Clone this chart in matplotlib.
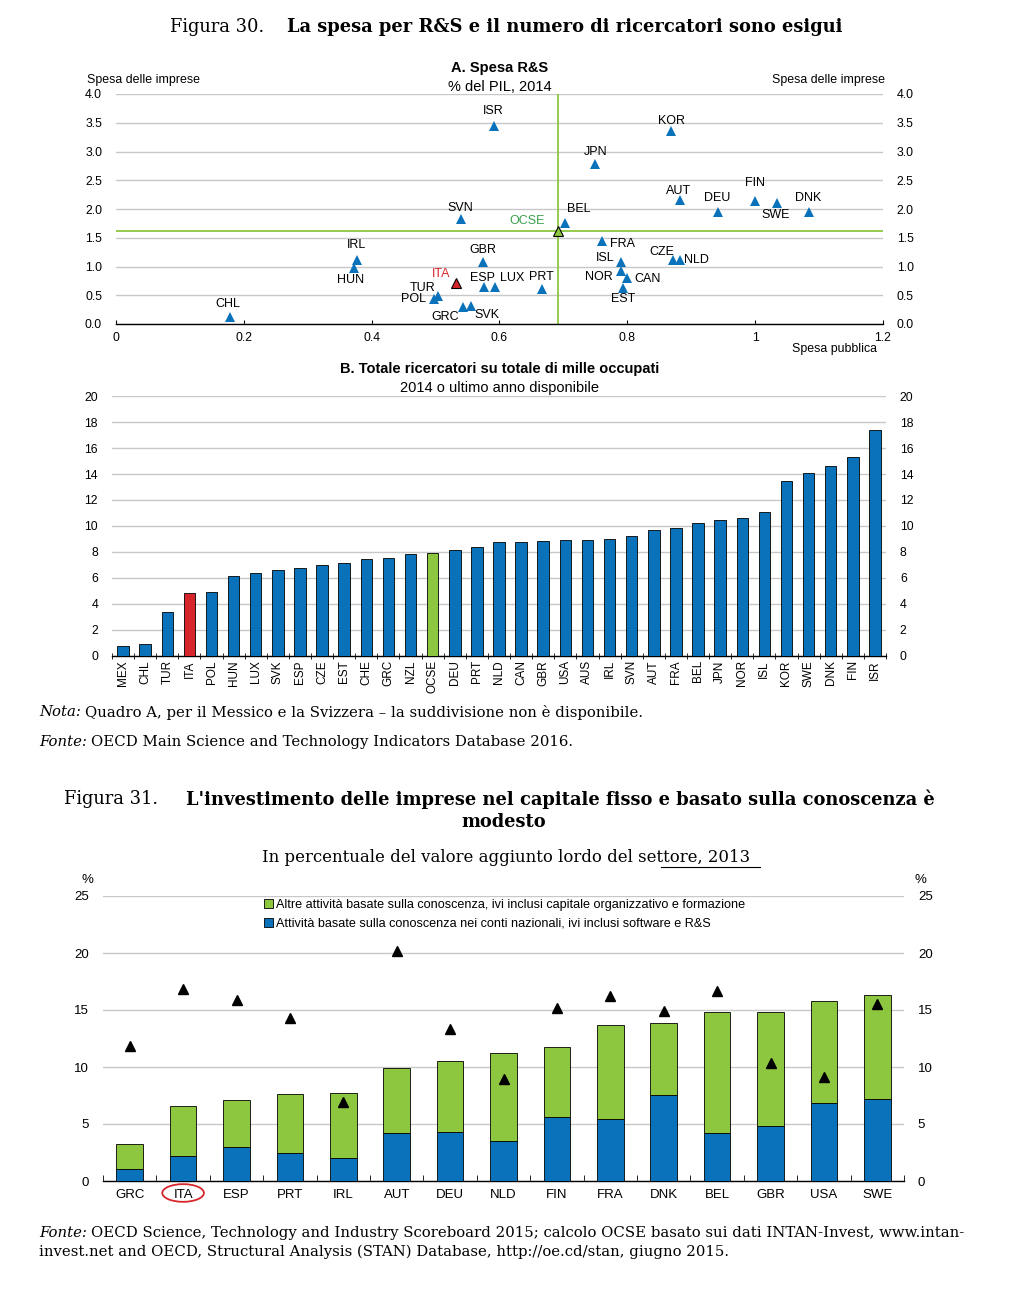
import matplotlib
matplotlib.use('Agg')
import matplotlib.pyplot as plt
import matplotlib.transforms as mtransforms
from matplotlib.patches import Ellipse, Patch
import numpy as np

plt.rcParams['font.family'] = ['Liberation Sans', 'DejaVu Sans']

# ---- Figura 30, quadro A: spesa R&S, % del PIL 2014
a_countries = ['CHL', 'IRL', 'HUN', 'TUR', 'POL', 'ITA', 'GRC', 'SVK', 'SVN', 'ISR',
               'GBR', 'ESP', 'LUX', 'PRT', 'BEL', 'JPN', 'FRA', 'ISL', 'NOR', 'CAN',
               'EST', 'CZE', 'NLD', 'KOR', 'AUT', 'DEU', 'FIN', 'SWE', 'DNK']
a_public = [0.178, 0.377, 0.372, 0.504, 0.498, 0.532, 0.543, 0.555, 0.539, 0.591,
            0.574, 0.576, 0.593, 0.667, 0.702, 0.750, 0.761, 0.790, 0.790, 0.800,
            0.794, 0.871, 0.882, 0.869, 0.882, 0.942, 1.000, 1.034, 1.085]
a_business = [0.12, 1.11, 0.97, 0.49, 0.43, 0.71, 0.29, 0.32, 1.83, 3.45,
              1.08, 0.65, 0.65, 0.61, 1.75, 2.78, 1.45, 1.07, 0.92, 0.80,
              0.62, 1.12, 1.12, 3.35, 2.16, 1.95, 2.14, 2.10, 1.95]
oecd_public = 0.692
oecd_business = 1.61

# ---- Figura 30, quadro B: ricercatori per mille occupati
b_countries = ['MEX', 'CHL', 'TUR', 'ITA', 'POL', 'HUN', 'LUX', 'SVK', 'ESP', 'CZE',
               'EST', 'CHE', 'GRC', 'NZL', 'OCSE', 'DEU', 'PRT', 'NLD', 'CAN', 'GBR',
               'USA', 'AUS', 'IRL', 'SVN', 'AUT', 'FRA', 'BEL', 'JPN', 'NOR', 'ISL',
               'KOR', 'SWE', 'DNK', 'FIN', 'ISR']
b_values = [0.80, 0.93, 3.39, 4.88, 4.94, 6.17, 6.40, 6.61, 6.79, 7.02,
            7.12, 7.48, 7.51, 7.87, 7.94, 8.17, 8.41, 8.74, 8.79, 8.87,
            8.95, 8.95, 8.97, 9.20, 9.72, 9.87, 10.26, 10.44, 10.62, 11.11,
            13.47, 14.06, 14.65, 15.30, 17.38]

# ---- Figura 31: investimento delle imprese, % del valore aggiunto 2013
c_countries = ['GRC', 'ITA', 'ESP', 'PRT', 'IRL', 'AUT', 'DEU', 'NLD', 'FIN', 'FRA',
               'DNK', 'BEL', 'GBR', 'USA', 'SWE']
c_national = [1.05, 2.16, 2.95, 2.49, 1.99, 4.21, 4.30, 3.51, 5.61, 5.41,
              7.51, 4.18, 4.80, 6.81, 7.19]
c_total = [3.25, 6.61, 7.13, 7.63, 7.69, 9.88, 10.50, 11.20, 11.73, 13.68,
           13.83, 14.80, 14.85, 15.76, 16.35]
c_fixed = [11.8, 16.8, 15.9, 14.3, 6.9, 20.15, 13.3, 8.95, 15.2, 16.2,
           14.9, 16.7, 10.35, 9.1, 15.5]
c_other = [t - n for t, n in zip(c_total, c_national)]

legend_labels = ['Altre attività basate sulla conoscenza, ivi inclusi capitale organizzativo e formazione',
                 'Attività basate sulla conoscenza nei conti nazionali, ivi inclusi software e R&S']

# label offsets (pixels) for quadro A
label_off = {'CHL': (-2, 13), 'IRL': (0, 15), 'HUN': (-3, -12), 'TUR': (-16, 8),
             'POL': (-21, 0), 'ITA': (-15, 9), 'GRC': (-18, -10), 'SVK': (16, -9),
             'SVN': (0, 11), 'ISR': (0, 15), 'GBR': (0, 12), 'ESP': (-2, 9),
             'LUX': (17, 9), 'PRT': (-1, 12), 'BEL': (14, 14), 'JPN': (0, 12),
             'FRA': (20, -3), 'ISL': (-16, 4), 'NOR': (-22, -6), 'CAN': (20, -1),
             'EST': (0, -11), 'CZE': (-11, 8), 'NLD': (17, 0), 'KOR': (0, 10),
             'AUT': (-1, 9), 'DEU': (-1, 14), 'FIN': (0, 18), 'SWE': (-1, -12),
             'DNK': (-1, 14)}

BLUE = '#0a72ba'
GREEN = '#8dc63f'
RED = '#d7262b'
GRID = '#c8c8c8'
SERIF = ['DejaVu Serif']

W, H = 1009, 1298
fig = plt.figure(figsize=(W / 100, H / 100), dpi=100)
renderer = fig.canvas.get_renderer()


def rect(l, r, t, b):
    return [l / W, 1 - b / H, (r - l) / W, (b - t) / H]


def px(x, y):
    return x / W, 1 - y / H


def style_axis(ax, pad):
    for s in ['left', 'right', 'top']:
        ax.spines[s].set_visible(False)
    ax.spines['bottom'].set_color('black')
    ax.spines['bottom'].set_linewidth(1.0)
    ax.yaxis.grid(True, color=GRID, lw=1.0)
    ax.set_axisbelow(True)
    ax.tick_params(axis='y', length=0, labelleft=True, labelright=True, pad=pad)


def note_line(x, y, head, rest, size):
    t = fig.text(*px(x, y), head, family=SERIF, fontsize=size, style='italic',
                 ha='left', va='center')
    x1 = t.get_window_extent(renderer).x1
    fig.text(*px(x1 + 4, y), rest, family=SERIF, fontsize=size, ha='left', va='center')


NOTE = 10.75
TITLE = 12.9

# ---------------- titles
fig.text(*px(170, 27), 'Figura 30.', family=SERIF, fontsize=TITLE, va='center', ha='left')
fig.text(*px(287, 27), 'La spesa per R&S e il numero di ricercatori sono esigui',
         family=SERIF, fontsize=TITLE, fontweight='bold', va='center', ha='left')

# ---------------- quadro A
axA = fig.add_axes(rect(116, 883, 94, 324))
style_axis(axA, 10)
axA.set_xlim(0, 1.2)
axA.set_ylim(0, 4)
axA.set_yticks(np.arange(0, 4.01, 0.5))
axA.set_yticklabels(['%.1f' % v for v in np.arange(0, 4.01, 0.5)], fontsize=8.8)
axA.set_xticks([0, 0.2, 0.4, 0.6, 0.8, 1.0, 1.2])
axA.set_xticklabels(['0', '0.2', '0.4', '0.6', '0.8', '1', '1.2'], fontsize=8.8)
axA.tick_params(axis='x', direction='in', length=3, pad=6)
axA.axhline(oecd_business, color=GREEN, lw=1.3, zorder=2)
axA.axvline(oecd_public, color=GREEN, lw=1.3, zorder=2)

for c, x, y in zip(a_countries, a_public, a_business):
    if c == 'ITA':
        axA.plot(x, y, '^', ms=7, mfc=RED, mec='black', mew=0.8, zorder=4)
        col = RED
    else:
        axA.plot(x, y, '^', ms=7, color=BLUE, mew=0, zorder=4)
        col = 'black'
    dx, dy = label_off[c]
    axA.annotate(c, (x, y), xytext=(dx, dy), textcoords='offset pixels',
                 ha='center', va='center', fontsize=9, color=col)
axA.plot(oecd_public, oecd_business, '^', ms=7, mfc=GREEN, mec='black', mew=0.8, zorder=5)
axA.annotate('OCSE', (oecd_public, oecd_business), xytext=(-31, 10),
             textcoords='offset pixels', ha='center', va='center', fontsize=9, color='#3aa04a')

fig.text(*px(500, 68), 'A. Spesa R&S', fontsize=10.5, fontweight='bold', ha='center', va='center')
fig.text(*px(500, 87), '% del PIL, 2014', fontsize=10.5, ha='center', va='center')
fig.text(*px(87, 80), 'Spesa delle imprese', fontsize=8.9, ha='left', va='center')
fig.text(*px(885, 80), 'Spesa delle imprese', fontsize=8.9, ha='right', va='center')
fig.text(*px(877, 349), 'Spesa pubblica', fontsize=8.9, ha='right', va='center')

# ---------------- quadro B
axB = fig.add_axes(rect(112, 886, 396, 656))
style_axis(axB, 10)
xb = np.arange(len(b_countries))
colsB = [RED if c == 'ITA' else GREEN if c == 'OCSE' else BLUE for c in b_countries]
axB.bar(xb, b_values, width=0.52, color=colsB, edgecolor='black', lw=0.6, zorder=3)
axB.set_xlim(-0.5, len(b_countries) - 0.5)
axB.set_ylim(0, 20)
axB.set_yticks(range(0, 21, 2))
axB.tick_params(axis='y', labelsize=8.8)
axB.set_xticks(xb)
axB.set_xticklabels(b_countries, rotation=90, fontsize=8.5)
axB.tick_params(axis='x', which='major', length=0, pad=3)
axB.set_xticks(np.arange(-0.5, len(b_countries)), minor=True)
axB.tick_params(axis='x', which='minor', direction='inout', length=4)
fig.text(*px(500, 369), 'B. Totale ricercatori su totale di mille occupati',
         fontsize=10.5, fontweight='bold', ha='center', va='center')
fig.text(*px(500, 388), '2014 o ultimo anno disponibile', fontsize=10.5, ha='center', va='center')

# ---------------- note
note_line(39, 712, 'Nota:', 'Quadro A, per il Messico e la Svizzera – la suddivisione non è disponibile.', NOTE)
note_line(39, 742, 'Fonte:', 'OECD Main Science and Technology Indicators Database 2016.', NOTE)

# ---------------- figura 31
fig.text(*px(64, 799), 'Figura 31.', family=SERIF, fontsize=TITLE, va='center', ha='left')
fig.text(*px(186, 799), "L'investimento delle imprese nel capitale fisso e basato sulla conoscenza è",
         family=SERIF, fontsize=TITLE, fontweight='bold', va='center', ha='left')
fig.text(*px(504, 822), 'modesto', family=SERIF, fontsize=TITLE, fontweight='bold',
         va='center', ha='center')
fig.text(*px(506, 857), 'In percentuale del valore aggiunto lordo del settore, 2013',
         family=SERIF, fontsize=11.9, va='center', ha='center')
fig.add_artist(plt.Line2D([661 / W, 760 / W], [1 - 867 / H, 1 - 867 / H], color='black', lw=0.8))

axC = fig.add_axes(rect(103, 904, 896, 1181))
style_axis(axC, 10)
xc = np.arange(len(c_countries))
axC.bar(xc, c_national, width=0.5, color=BLUE, edgecolor='black', lw=0.6, zorder=3)
axC.bar(xc, c_other, bottom=c_national, width=0.5, color=GREEN, edgecolor='black', lw=0.6, zorder=3)
axC.plot(xc, c_fixed, '^', ls='none', color='black', ms=7, zorder=4)
axC.set_xlim(-0.5, len(c_countries) - 0.5)
axC.set_ylim(0, 25)
axC.set_yticks(range(0, 26, 5))
axC.tick_params(axis='y', labelsize=9.5)
axC.set_xticks(xc)
axC.set_xticklabels(c_countries, fontsize=9.5)
axC.tick_params(axis='x', which='major', length=0, pad=6)
axC.set_xticks(np.arange(-0.5, len(c_countries)), minor=True)
axC.tick_params(axis='x', which='minor', direction='in', length=4)

handles = [Patch(facecolor=GREEN, edgecolor='black', lw=0.6),
           Patch(facecolor=BLUE, edgecolor='black', lw=0.6)]
fig.legend(handles, legend_labels, loc='upper left', bbox_to_anchor=px(264, 899),
           frameon=False, fontsize=9.1, handlelength=0.7, handleheight=0.7,
           handletextpad=0.25, labelspacing=0.55, borderpad=0, borderaxespad=0)

fig.text(*px(87, 880), '%', fontsize=9.5, ha='center', va='center')
fig.text(*px(920, 880), '%', fontsize=9.5, ha='center', va='center')

ita = c_countries.index('ITA')
trans = mtransforms.blended_transform_factory(axC.transData, axC.transAxes)
axC.add_patch(Ellipse((ita, -0.042), 0.78, 0.062, transform=trans, fill=False,
                      edgecolor=RED, lw=1.3, clip_on=False))

note_line(39, 1233, 'Fonte:', 'OECD Science, Technology and Industry Scoreboard 2015; calcolo OCSE basato sui dati INTAN-Invest, www.intan-', NOTE)
fig.text(*px(39, 1252), 'invest.net and OECD, Structural Analysis (STAN) Database, http://oe.cd/stan, giugno 2015.',
         family=SERIF, fontsize=NOTE, ha='left', va='center')

fig.savefig('out.png', dpi=100, facecolor='white')
